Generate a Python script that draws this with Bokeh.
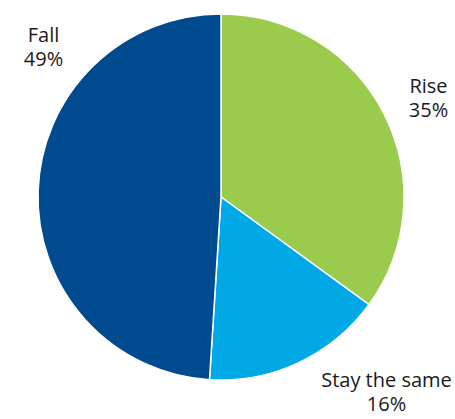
import math
from bokeh.plotting import figure
from bokeh.models import Range1d, ColumnDataSource
from bokeh.core.properties import value
from bokeh.embed import file_html
from bokeh.resources import INLINE

categories = ["Rise", "Stay the same", "Fall"]
shares = [35, 16, 49]
colors = ["#9BCB4C", "#00A9E6", "#004A90"]

W, H = 455, 419
p = figure(width=W, height=H, output_backend="svg", toolbar_location=None,
           x_range=Range1d(0, W), y_range=Range1d(0, H), min_border=0)
p.axis.visible = False
p.grid.visible = False
p.outline_line_color = None
p.background_fill_color = "white"

cx, cy, r = 220.5, H - 196.5, 183
total = sum(shares)
starts, ends = [], []
cum = 0
for s in shares:
    starts.append(math.pi / 2 - cum / total * 2 * math.pi)
    cum += s
    ends.append(math.pi / 2 - cum / total * 2 * math.pi)

src = ColumnDataSource(dict(start=starts, end=ends, color=colors))
p.wedge(x=cx, y=cy, radius=r, start_angle="start", end_angle="end",
        direction="clock", fill_color="color", line_color="white",
        line_width=1.5, source=src)

# label positions (pixel coords from top)
lab_x = [428, 386, 43]
lab_y1 = [85, 379, 34]
labels1 = categories
labels2 = [f"{s}%" for s in shares]
p.text(x=lab_x, y=[H - y for y in lab_y1], text=labels1,
       text_font=value("Open Sans"), text_font_size="20px",
       text_align="center", text_baseline="alphabetic", text_color="#1a1a1a")
p.text(x=lab_x, y=[H - y - 24 for y in lab_y1], text=labels2,
       text_font=value("Open Sans"), text_font_size="20px",
       text_align="center", text_baseline="alphabetic", text_color="#1a1a1a")

open("out.html", "w").write(file_html(p, INLINE))
